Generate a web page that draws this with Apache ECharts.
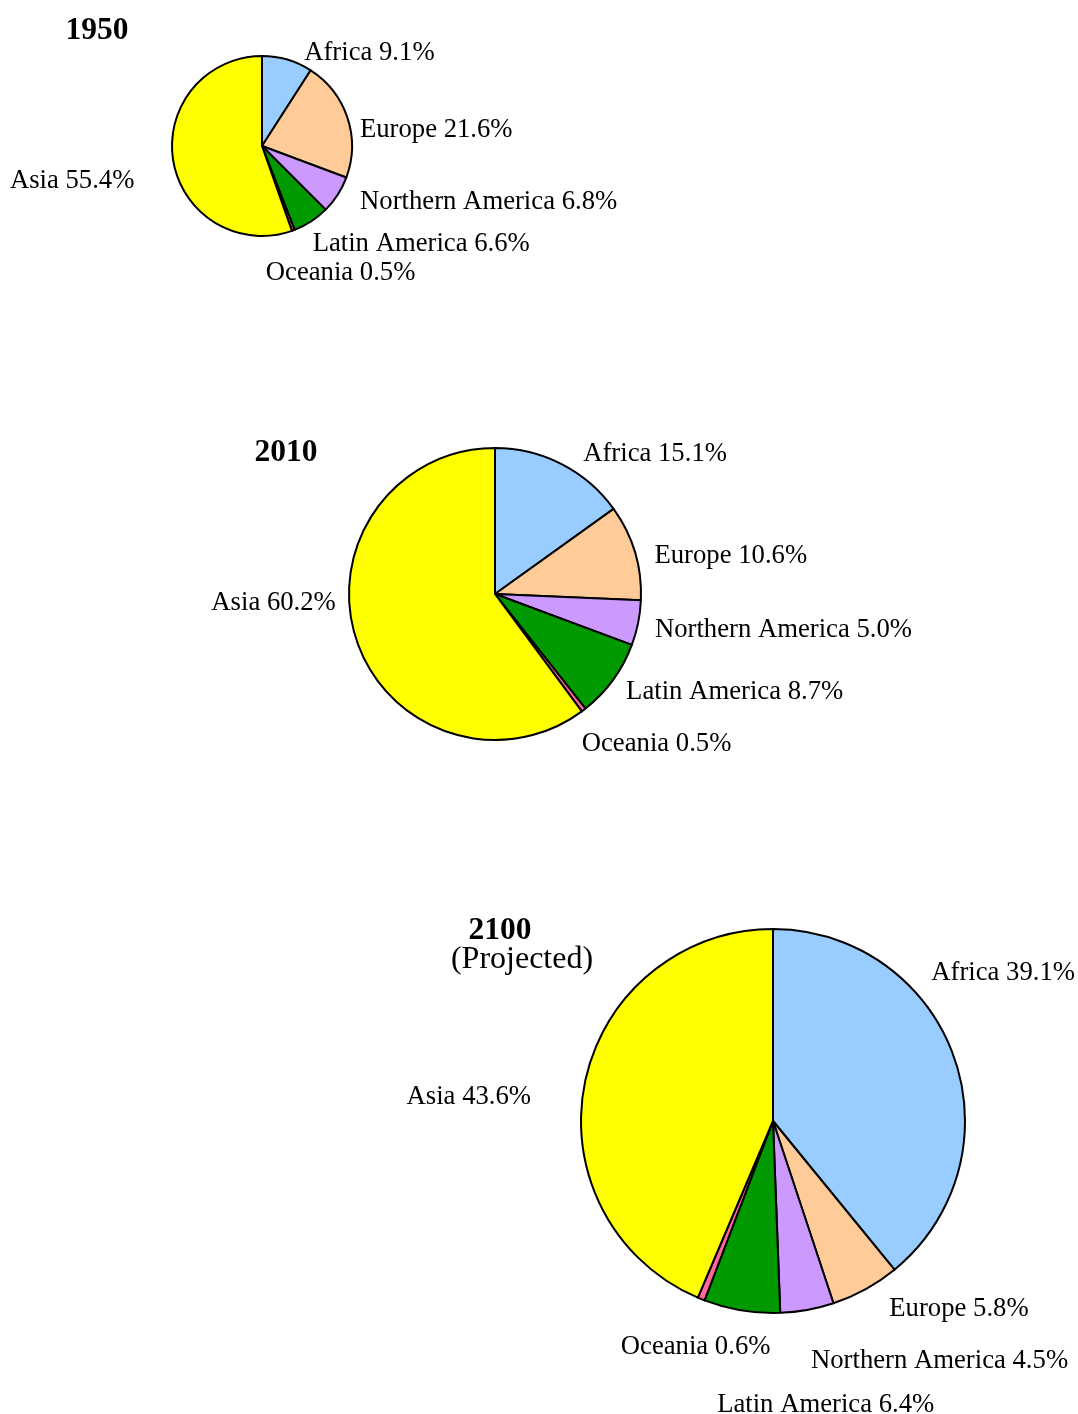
<!DOCTYPE html>
<html>
<head>
<meta charset="utf-8">
<script src="https://cdn.jsdelivr.net/npm/echarts@6/dist/echarts.min.js"></script>
<style>
  html, body { margin: 0; padding: 0; background: #fff; }
  #chart { width: 1078px; height: 1414px; }
</style>
</head>
<body>
<div id="chart"></div>
<script>
// regions, clockwise from 12 o'clock
const regions = ['Africa', 'Europe', 'Northern America', 'Latin America', 'Oceania', 'Asia']
const share1950 = [9.1, 21.6, 6.8, 6.6, 0.5, 55.4]
const share2010 = [15.1, 10.6, 5.0, 8.7, 0.5, 60.2]
const share2100 = [39.1, 5.8, 4.5, 6.4, 0.6, 43.6]
const yearLabels = ['1950', '2010', '2100']

const colors = ['#99ccff', '#ffcc99', '#cc99ff', '#009900', '#ff6699', '#ffff00']
const font = '"Liberation Serif", "Times New Roman", serif'

// label nudges [dx, dy] (and optional align) per pie
const nudges = [
  [[9, 3], [-2, 15], [9, 2], [-9, 14], [-36, 33], [-24, 18]],
  [[12, -1], [5, 7], [2, 5], [0, 6], [-13, 26], [-6, -40]],
  [[-37, -80], [14, 11], [-3, 41], [-18, 85, 'left'], [78, 39], [-39, 16]]
]

const chart = echarts.init(document.getElementById('chart'))

function pie(values, center, radius, idx) {
  return {
    type: 'pie',
    center: center,
    radius: radius,
    startAngle: 90,
    clockwise: true,
    avoidLabelOverlap: false,
    silent: true,
    animation: false,
    itemStyle: { borderColor: '#000', borderWidth: 2 },
    label: {
      show: true,
      position: 'outside',
      fontFamily: font,
      fontSize: 26.7,
      color: '#000',
      formatter: (p) => p.name + ' ' + values[p.dataIndex].toFixed(1) + '%'
    },
    labelLine: { show: false, length: 10, length2: 0 },
    labelLayout: (p) => {
      const n = nudges[idx][p.dataIndex]
      const out = { dx: n[0], dy: n[1] }
      if (n[2]) out.align = n[2]
      return out
    },
    data: regions.map((r, i) => ({
      name: r,
      value: values[i],
      itemStyle: { color: colors[i] }
    }))
  }
}

const titleStyle = { fontFamily: font, fontWeight: 'bold', fontSize: 31.5, color: '#000' }

chart.setOption({
  backgroundColor: '#fff',
  title: [
    { text: yearLabels[0], left: 92, top: 10, textAlign: 'center', textStyle: titleStyle },
    { text: yearLabels[1], left: 281, top: 432, textAlign: 'center', textStyle: titleStyle },
    { text: yearLabels[2], left: 495, top: 910, textAlign: 'center', textStyle: titleStyle },
    { text: '(Projected)', left: 517, top: 939, textAlign: 'center',
      textStyle: { fontFamily: font, fontWeight: 'normal', fontSize: 32, color: '#000' } }
  ],
  series: [
    pie(share1950, [262, 146], 90, 0),
    pie(share2010, [495, 594], 146, 1),
    pie(share2100, [773, 1121], 192, 2)
  ]
})
</script>
</body>
</html>
